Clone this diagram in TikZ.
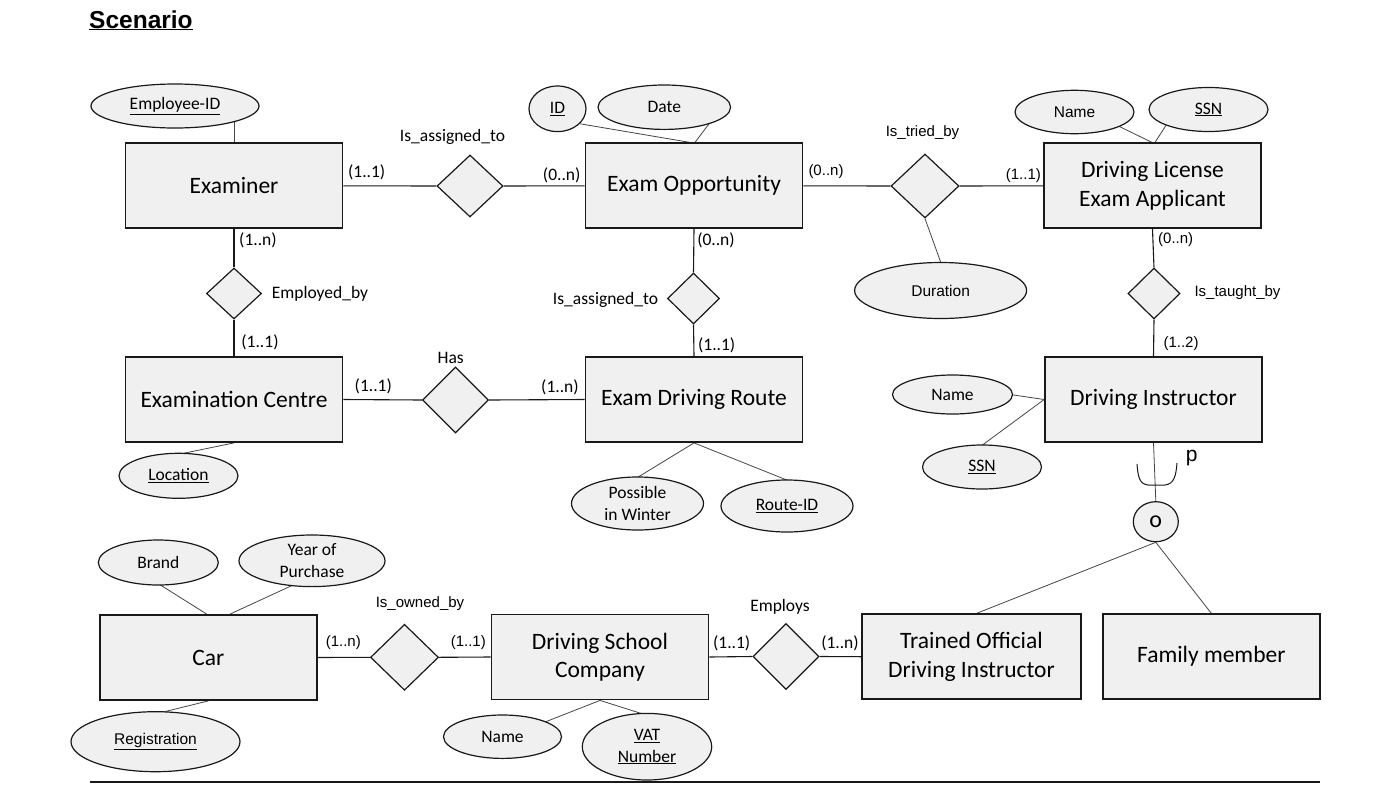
\documentclass[tikz,border=0pt]{standalone}
\usepackage{fontspec}
\setmainfont{Carlito}
\newfontfamily\arial{Liberation Sans}
\usetikzlibrary{shapes.geometric,calc,backgrounds}
\definecolor{boxfill}{RGB}{240,240,240}
\definecolor{linec}{RGB}{25,25,25}
\definecolor{attrc}{RGB}{70,70,70}
\tikzset{
 entity/.style={rectangle, draw=linec, line width=1.8pt, fill=boxfill, minimum width=217pt, minimum height=85pt, inner sep=0pt, align=center, font=\fontsize{23.5}{28.5}\selectfont},
 rel/.style={diamond, draw=linec, line width=1.2pt, fill=boxfill, inner sep=0pt},
 attr/.style={ellipse, draw=linec, line width=1.2pt, fill=boxfill, inner sep=0pt, align=center, font=\fontsize{17.5}{21.5}\selectfont},
 aattr/.style={attr, font=\arial\fontsize{15.5}{21}\selectfont},
 lbl/.style={inner sep=0pt, font=\fontsize{17.5}{21}\selectfont},
 albl/.style={inner sep=0pt, font=\arial\fontsize{15}{18}\selectfont},
 conn/.style={draw=linec, line width=1.1pt},
 aline/.style={draw=attrc, line width=0.8pt},
}
\begin{document}
\begin{tikzpicture}[x=1pt,y=-1pt]
\useasboundingbox (0,0) rectangle (1374,793);

% title
\node[anchor=base west, inner sep=0pt, font=\arial\bfseries\fontsize{24.5}{28}\selectfont] (title) at (89,28) {\underline{Scenario}};

% entities
\node[entity] (examiner) at (234,185.8) {Examiner};
\node[entity] (exopp) at (694,185.8) {Exam Opportunity};
\node[entity] (dlea) at (1152.5,185.8) {Driving License\\Exam Applicant};
\node[entity] (excentre) at (234,399.5) {Examination Centre};
\node[entity] (route) at (694,399.5) {Exam Driving Route};
\node[entity] (instr) at (1153.5,399.5) {Driving Instructor};
\node[entity] (car) at (208.3,657.5) {Car};
\node[entity] (dsc) at (600,657) {Driving School\\Company};
\node[entity, minimum width=218.4pt] (trained) at (971.5,656.7) {Trained Official\\Driving Instructor};
\node[entity] (family) at (1211.3,656.7) {Family member};

% relationships
\node[rel, minimum width=66pt, minimum height=62pt] (assign1) at (470,186) {};
\node[rel, minimum width=68pt, minimum height=64pt] (tried) at (925,186) {};
\node[rel, minimum width=55pt, minimum height=51pt] (employed) at (234,293.5) {};
\node[rel, minimum width=52pt, minimum height=51pt] (assign2) at (693.5,298.5) {};
\node[rel, minimum width=52pt, minimum height=51pt] (taught) at (1154,293.5) {};
\node[rel, minimum width=66pt, minimum height=66pt] (has) at (455.5,400) {};
\node[rel, minimum width=68pt, minimum height=66pt] (owned) at (404.5,657.3) {};
\node[rel, minimum width=66pt, minimum height=66pt] (employs) at (786,656.5) {};

% attributes
\node[attr, minimum width=168pt, minimum height=44pt] (empid) at (175,106) {\underline{Employee-ID}};
\node[attr, minimum width=57pt, minimum height=45.6pt] (idE) at (557.5,108.8) {\underline{ID}};
\node[attr, minimum width=132.6pt, minimum height=44.4pt] (date) at (664.3,107.2) {Date};
\node[aattr, minimum width=119pt, minimum height=43.4pt] (dname) at (1074.5,112) {Name};
\node[attr, minimum width=119pt, minimum height=44pt] (dssn) at (1208.5,109.5) {\underline{SSN}};
\node[aattr, minimum width=172pt, minimum height=56pt] (duration) at (940.6,290.5) {Duration};
\node[attr, minimum width=119pt, minimum height=45pt] (location) at (178.5,475.8) {\underline{Location}};
\node[attr, minimum width=132pt, minimum height=53pt] (winter) at (637.5,503.5) {Possible\\in Winter};
\node[attr, minimum width=132pt, minimum height=52pt] (routeid) at (787,506) {\underline{Route-ID}};
\node[attr, minimum width=120pt, minimum height=39pt] (iname) at (952.5,394.5) {Name};
\node[attr, minimum width=119pt, minimum height=44pt] (issn) at (982,467) {\underline{SSN}};
\node[attr, minimum width=45pt, minimum height=40pt, font=\fontsize{24}{28}\selectfont] (ocirc) at (1155.8,521.7) {o};
\node[attr, minimum width=120pt, minimum height=45pt] (brand) at (158.3,562.5) {Brand};
\node[attr, minimum width=146pt, minimum height=51.6pt] (year) at (312,560.8) {Year of\\Purchase};
\node[aattr, minimum width=169pt, minimum height=60pt] (reg) at (155.5,741.7) {\underline{Registration}};
\node[attr, minimum width=118pt, minimum height=43.4pt] (sname) at (502.5,736.7) {Name};
\node[attr, minimum width=129.4pt, minimum height=66.6pt] (vat) at (647,746.7) {\underline{VAT}\\\underline{Number}};

% labels
\node[lbl] (l1) at (452.5,136.5) {Is\_assigned\_to};
\node[lbl] (l2) at (366.7,172.7) {(1..1)};
\node[lbl] (l3) at (561.7,175) {(0..n)};
\node[albl] (l4) at (826,172) {(0..n)};
\node[albl] (l5) at (922.5,133) {Is\_tried\_by};
\node[albl] (l6) at (1023.4,176) {(1..1)};
\node[lbl] (l7) at (258,240.7) {(1..n)};
\node[lbl] (l8) at (320,294) {Employed\_by};
\node[lbl] (l9) at (716,240.7) {(0..n)};
\node[lbl] (l10) at (605.5,300) {Is\_assigned\_to};
\node[albl] (l11) at (1175.7,240) {(0..n)};
\node[albl] (l12) at (1237.5,293) {Is\_taught\_by};
\node[albl] (l13) at (1181,343.3) {(1..2)};
\node[lbl] (l14) at (260,342.7) {(1..1)};
\node[lbl] (l15) at (450.7,358.3) {Has};
\node[lbl] (l16) at (373.3,386.7) {(1..1)};
\node[lbl] (l17) at (560,387.3) {(1..n)};
\node[lbl] (l18) at (716.7,345) {(1..1)};
\node[inner sep=0pt, font=\arial\fontsize{21}{24}\selectfont] (pl) at (1191.7,458) {p};
\node[albl] (l19) at (420,604) {Is\_owned\_by};
\node[albl] (l20) at (343.3,642.7) {(1..n)};
\node[albl] (l21) at (468.3,643) {(1..1)};
\node[lbl] (l22) at (731.7,643.3) {(1..1)};
\node[lbl] (l23) at (780,606.7) {Employs};
\node[lbl] (l24) at (840,643.3) {(1..n)};

% bottom rule
\coordinate (r1) at (90,782);
\coordinate (r2) at (1320,782);
\draw[line width=1.2pt, draw=linec] (r1) -- (r2);

\begin{scope}[on background layer]
\fill[white] (0,0) rectangle (1374,793);
% relationship connectors
\draw[conn] (examiner.east) -- (assign1.west);
\draw[conn] (assign1.east) -- (exopp.west);
\draw[conn] (exopp.east) -- (tried.west);
\draw[conn] (tried.east) -- (dlea.west);
\draw[conn] (examiner.south) -- (employed.north);
\draw[conn] (employed.south) -- (excentre.north);
\draw[conn] (exopp.south) -- (assign2.north);
\draw[conn] (assign2.south) -- (route.north);
\draw[conn] (dlea.south) -- (taught.north);
\draw[conn] (taught.south) -- (instr.north);
\draw[conn] (excentre.east) -- (has.west);
\draw[conn] (has.east) -- (route.west);
\draw[conn] (car.east) -- (owned.west);
\draw[conn] (owned.east) -- (dsc.west);
\draw[conn] (dsc.east) -- (employs.west);
\draw[conn] (employs.east) -- (trained.west);
\draw[aline] (instr.south) -- (ocirc.north);
\draw[aline] (ocirc.south) -- ($(trained.north)+(5.2,0)$);
\draw[aline] (ocirc.south) -- (family.north);
\draw[aline] (tried.south) -- (duration.north);
% attribute lines
\draw[aline] (examiner.north) -- (examiner.north |- empid.center);
\draw[aline] ($(exopp.north)+(-4,0)$) -- ($(idE.center)+(2.5,11.6)$);
\draw[aline] ($(exopp.north)+(1,0)$) -- ($(date.center)+(49.7,10)$);
\draw[aline] ($(dlea.north)+(-0.5,0)$) -- ($(dname.center)+(30.5,7.5)$);
\draw[aline] ($(dlea.north)+(2.5,0)$) -- ($(dssn.center)+(-36.5,6.5)$);
\draw[aline] (excentre.south) -- ($(location.center)+(-13.5,-18.7)$);
\draw[aline] (route.south) -- ($(winter.center)+(-7.5,-21.5)$);
\draw[aline] (route.south) -- ($(routeid.center)+(8,-22.7)$);
\draw[aline] (instr.west) -- ($(iname.center)+(47.5,-1.5)$);
\draw[aline] (instr.west) -- ($(issn.center)+(-7,-16.5)$);
\draw[aline] ($(car.north)+(-1.6,0)$) -- ($(brand.center)+(-13.3,12.8)$);
\draw[aline] ($(car.north)+(21.7,0)$) -- ($(year.center)+(-12,21)$);
\draw[aline] (car.south) -- ($(reg.center)+(-10.5,-25.2)$);
\draw[aline] (dsc.south) -- ($(sname.center)+(37.5,-12.7)$);
\draw[aline] (dsc.south) -- ($(vat.center)+(8,-28.9)$);
\end{scope}

% subset symbol
\draw[line width=1pt, draw=linec] (1137,464) .. controls (1138,476) and (1139,484) .. (1148,485) -- (1165,485) .. controls (1174,484) and (1176,476) .. (1177,463);
\end{tikzpicture}
\end{document}
